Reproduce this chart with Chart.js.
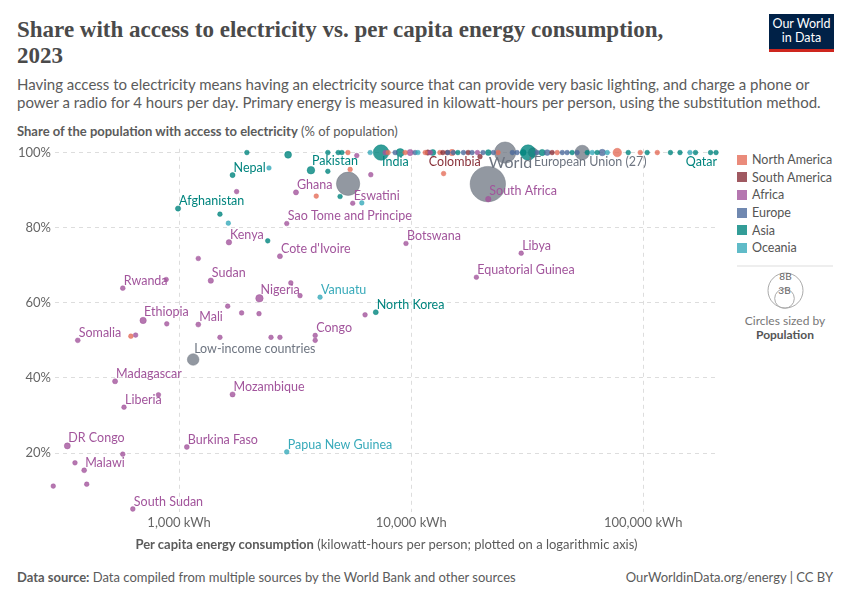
<!DOCTYPE html>
<html>
<head>
<meta charset="utf-8">
<script src="https://cdn.jsdelivr.net/npm/chart.js@4.4.1/dist/chart.umd.min.js"></script>
<style>
  body { margin: 0; background: #fff; font-family: Lato, sans-serif; }
  #page { position: relative; width: 850px; height: 600px; overflow: hidden; }
  #title { position: absolute; left: 17px; top: 17px; font-family: "Liberation Serif", serif; font-weight: bold; font-size: 23px; line-height: 26px; color: #4a4a4a; }
  #subtitle { position: absolute; left: 17px; top: 75px; width: 820px; font-size: 15px; line-height: 18px; color: #5b5b5b; }
  #logo { position: absolute; left: 769px; top: 14px; width: 65px; background: #002147; border-bottom: 3px solid #ce261e; color: #fff; font-size: 12.5px; line-height: 14px; text-align: center; padding-top: 3px; height: 32px; }
  #ytitle { position: absolute; left: 17px; top: 124px; font-size: 13px; line-height: 14px; color: #5b5b5b; }
  #xtitle { position: absolute; left: 55px; width: 663px; top: 537px; font-size: 13px; line-height: 14px; color: #5b5b5b; text-align: center; }
  #source { position: absolute; left: 17px; top: 570px; font-size: 13px; line-height: 14px; color: #5b5b5b; }
  #credit { position: absolute; right: 17px; top: 570px; font-size: 13px; line-height: 14px; color: #5b5b5b; }
  #chart { position: absolute; left: 0; top: 137px; }
  #legend { position: absolute; left: 737px; top: 151px; font-size: 12.5px; color: #555; }
  .item { height: 17.6px; display: flex; align-items: center; }
  .sw { width: 10px; height: 10px; margin-right: 5px; }
  #sizeKey { position: absolute; left: 737px; top: 265px; }
</style>
</head>
<body>
<div id="page">
  <div id="title">Share with access to electricity vs. per capita energy consumption,<br>2023</div>
  <div id="subtitle">Having access to electricity means having an electricity source that can provide very basic lighting, and charge a phone or power a radio for 4 hours per day. Primary energy is measured in kilowatt-hours per person, using the substitution method.</div>
  <div id="logo">Our World<br>in Data</div>
  <div id="ytitle"><b>Share of the population with access to electricity</b> (% of population)</div>
  <canvas id="chart" width="725" height="400"></canvas>
  <div id="xtitle"><b>Per capita energy consumption</b> (kilowatt-hours per person; plotted on a logarithmic axis)</div>
  <div id="source"><b>Data source:</b> Data compiled from multiple sources by the World Bank and other sources</div>
  <div id="credit">OurWorldinData.org/energy | CC BY</div>
  <div id="legend"></div>
  <svg id="sizeKey" width="100" height="80">
    <line x1="0" y1="1" x2="96" y2="1" stroke="#ddd" stroke-width="1"/>
    <circle cx="48.5" cy="25.5" r="17.5" fill="none" stroke="#aaa" stroke-width="1"/>
    <circle cx="47.5" cy="33.5" r="9.8" fill="none" stroke="#aaa" stroke-width="1"/>
    <text x="48.5" y="15" font-size="10" fill="#666" text-anchor="middle" font-family="Lato">8B</text>
    <text x="47.5" y="29" font-size="10" fill="#666" text-anchor="middle" font-family="Lato">3B</text>
    <text x="48" y="60" font-size="12" fill="#777" text-anchor="middle" font-family="Lato">Circles sized by</text>
    <text x="48" y="74" font-size="12" fill="#555" font-weight="bold" text-anchor="middle" font-family="Lato">Population</text>
  </svg>
</div>
<script>
// region codes used in the arrays below
const regionNames = { NA: "North America", SA: "South America", AF: "Africa", EU: "Europe", AS: "Asia", OC: "Oceania" };
const legendOrder = ["NA", "SA", "AF", "EU", "AS", "OC"];

const regionColors = {
    NA: "#e56e5a",
    SA: "#883039",
    AF: "#a2559c",
    EU: "#4c6a9c",
    AS: "#00847e",
    OC: "#38aaba",
    AG: "#6e7581"
};

// entity, region, energy per capita (kWh), access (%), population (millions)
const names = [
    "World", "Upper-middle-income countries", "Lower-middle-income countries", "High-income countries", "Low-income countries", "European Union (27)",
    "India", "China", "United States", "Pakistan", "Nigeria", "Ethiopia", "DR Congo", "South Africa", "Kenya", "Colombia",
    "Sudan", "Afghanistan", "Ghana", "Mozambique", "Nepal", "Madagascar", "Cote d'Ivoire", "North Korea", "Mali", "Burkina Faso",
    "Malawi", "Somalia", "Rwanda", "South Sudan", "Papua New Guinea", "Libya", "Congo", "Liberia", "Qatar", "Botswana",
    "Equatorial Guinea", "Eswatini", "Vanuatu", "Sao Tome and Principe",
    // unlabeled, on the 100% line
    "", "", "", "", "", "", "", "", "", "", "", "", "", "", "", "", "", "", "", "", "",
    "", "", "", "", "", "", "", "", "", "", "", "", "", "", "", "", "", "", "", "",
    "", "", "", "", "", "", "", "", "", "", "", "", "", "", "", "", "", "", "",
    // unlabeled, below
    "", "", "", "", "", "", "", "", "", "", "", "", "", "", "", "", "", "", "", "",
    "", "", "", "", "", "", "", "", "", "", "", "", ""
];
const regions = [
    "AG", "AG", "AG", "AG", "AG", "AG",
    "AS", "AS", "NA", "AS", "AF", "AF", "AF", "AF", "AF", "SA",
    "AF", "AS", "AF", "AF", "AS", "AF", "AF", "AS", "AF", "AF",
    "AF", "AF", "AF", "AF", "OC", "AF", "AF", "AF", "AS", "AF",
    "AF", "AF", "OC", "AF",
    "AS", "AS", "AS", "AS", "AS", "NA", "AF", "OC", "AF", "NA", "EU", "AS", "NA", "AF", "EU", "OC", "NA", "AF", "AS", "NA", "SA",
    "SA", "EU", "NA", "EU", "AS", "EU", "SA", "EU", "AF", "EU", "AS", "EU", "NA", "EU", "EU", "AS", "EU", "AS", "EU", "SA",
    "NA", "EU", "EU", "AS", "EU", "AS", "OC", "AS", "EU", "OC", "AS", "NA", "AS", "NA", "AS", "AS", "OC", "AS", "AS",
    "OC", "AS", "NA", "AF", "AF", "NA", "AS", "OC", "AS", "OC", "AS", "AF", "NA", "SA", "AF", "AF", "AF", "AF", "AF", "AF",
    "AF", "AF", "NA", "AF", "AF", "AF", "AF", "AF", "AF", "AF", "AF", "AF", "AF"
];
const energy = [
    21400, 25400, 5350, 54600, 1150, 33500,
    7420, 31900, 77300, 3700, 2220, 700, 330, 21500, 1640, 11800,
    1370, 990, 3190, 1700, 1700, 530, 2720, 7040, 1210, 1080,
    390, 366, 572, 632, 2910, 29800, 3860, 579, 206000, 9500,
    19100, 5600, 4050, 2910,
    1960, 2950, 4375, 4850, 5030, 5340, 5830, 6660, 7730, 7960, 8530, 8970, 9420, 9900, 10400, 10700, 11500, 12100, 12400, 13300, 13700,
    14300, 14400, 15000, 15200, 15900, 16800, 17600, 18300, 19300, 20400, 21500, 22600, 23700, 27300, 28600, 30400, 34900, 36700, 38600, 40500,
    42600, 44800, 47000, 49400, 51900, 57400, 60300, 63300, 66600, 70000, 86200, 97100, 104000, 115000, 131000, 144000, 159000, 168000, 195000,
    2440, 4375, 5460, 6700, 1770, 3900, 4940, 6130, 1500, 1630, 2410, 1210, 13800, 19800, 880, 3030, 3320, 1620, 1860, 2210,
    6330, 885, 620, 650, 1500, 2490, 2720, 3860, 815, 572, 356, 287, 400
];
const access = [
    91.6, 100, 91.7, 100, 44.9, 100,
    100, 100, 100, 95.3, 61.2, 55.3, 21.9, 87.6, 76.1, 100,
    65.9, 85.1, 89.4, 35.6, 94.0, 39.1, 72.4, 57.5, 54.2, 21.6,
    15.4, 50.0, 63.9, 5.1, 20.3, 73.2, 51.3, 32.2, 100, 75.8,
    66.8, 86.5, 61.5, 81.1,
    100, 99.4, 100, 100, 100, 100, 99.2, 100, 100, 100, 100, 100, 100, 100, 100, 100, 100, 100, 100, 100, 100,
    100, 100, 100, 100, 100, 100, 100, 100, 100, 100, 100, 100, 100, 100, 100, 100, 100, 100, 100, 100,
    100, 100, 100, 100, 100, 100, 100, 100, 100, 100, 100, 100, 100, 100, 100, 100, 100, 100, 100,
    95.9, 95.0, 95.5, 94.1, 89.6, 88.4, 88.3, 86.6, 83.6, 81.2, 76.5, 71.8, 94.4, 98.9, 66.2, 65.3, 61.9, 59.1, 57.3, 57.1,
    56.8, 54.4, 51.1, 51.4, 50.8, 50.8, 50.8, 50.0, 35.5, 19.7, 17.4, 11.2, 11.7
];
const population = [
    8000, 2800, 3400, 1250, 740, 450,
    1430, 1410, 335, 240, 225, 126, 102, 60, 55, 52,
    48, 41, 34, 33, 30, 30, 29, 26, 23, 23,
    20, 18, 14, 11, 10, 7, 6, 5.4, 2.7, 2.5,
    1.7, 1.2, 0.3, 0.2,
    5, 172, 10, 5, 5, 5, 5, 1, 5, 5, 5, 278, 5, 112, 5, 1, 5, 5, 100, 5, 5,
    5, 5, 128, 5, 5, 5, 10, 5, 5, 5, 85, 5, 10, 5, 5, 89, 5, 124, 84, 5,
    5, 5, 5, 5, 5, 5, 5, 5, 144, 5, 5, 5, 5, 5, 5, 5, 5, 5, 5,
    1, 5, 5, 5, 5, 5, 5, 1, 5, 1, 5, 5, 5, 5, 5, 5, 5, 5, 5, 5,
    5, 5, 11, 5, 5, 5, 5, 5, 5, 5, 5, 5, 5
];

const labelled = [
    "World", "Low-income countries", "European Union (27)", "India", "Pakistan", "Nigeria", "Ethiopia", "DR Congo",
    "South Africa", "Kenya", "Colombia", "Sudan", "Afghanistan", "Ghana", "Mozambique", "Nepal", "Madagascar",
    "Cote d'Ivoire", "North Korea", "Mali", "Burkina Faso", "Malawi", "Somalia", "Rwanda", "South Sudan",
    "Papua New Guinea", "Libya", "Congo", "Liberia", "Qatar", "Botswana", "Equatorial Guinea", "Eswatini",
    "Vanuatu", "Sao Tome and Principe"
];
const labelsBelow = ["India", "Colombia", "European Union (27)", "Qatar"];

const xTicks = [1000, 10000, 100000];
const yTicks = [20, 40, 60, 80, 100];

function hexAlpha(hex, a) {
    const n = parseInt(hex.slice(1), 16);
    return `rgba(${n >> 16}, ${(n >> 8) & 255}, ${n & 255}, ${a})`;
}

function radiusFor(pop) {
    return Math.sqrt(2.3 * 2.3 + 38.5 * pop / 1000);
}

// aggregates first (behind), then countries by population
let points = names.map((name, i) => ({
    name, region: regions[i], x: energy[i], y: access[i], pop: population[i]
}));
points.sort((a, b) => {
    const ga = a.region === "AG" ? 1 : 0, gb = b.region === "AG" ? 1 : 0;
    if (ga !== gb) return gb - ga;
    return b.pop - a.pop;
});

// legend
document.getElementById("legend").innerHTML = legendOrder.map(code => `
    <div class="item"><span class="sw" style="background:${hexAlpha(regionColors[code], 0.8)}"></span>${regionNames[code]}</div>
`).join('');

const labelPlugin = {
    id: 'pointLabels',
    afterDatasetsDraw(chart) {
        const ctx = chart.ctx;
        const meta = chart.getDatasetMeta(0);
        ctx.save();
        meta.data.forEach((el, i) => {
            const p = points[i];
            if (!labelled.includes(p.name)) return;
            const r = radiusFor(p.pop);
            const big = p.name === "World";
            ctx.font = (big ? 16 : 12.5) + "px Lato";
            ctx.fillStyle = p.region === "AG" ? "#6e7581" : regionColors[p.region];
            ctx.textBaseline = "middle";
            ctx.textAlign = p.name === "Qatar" ? "right" : "left";
            let y = el.y - r - (big ? 4 : 5);
            if (labelsBelow.includes(p.name)) y = el.y + 9;
            ctx.fillText(p.name, el.x + 1, y);
        });
        ctx.restore();
    }
};

Chart.defaults.font.family = "Lato";

new Chart(document.getElementById("chart"), {
    type: 'scatter',
    data: {
        datasets: [{
            data: points.map(p => ({ x: p.x, y: p.y })),
            backgroundColor: points.map(p => hexAlpha(regionColors[p.region], p.region === "AG" ? 0.75 : 0.8)),
            borderColor: points.map(p => hexAlpha(regionColors[p.region], 0.9)),
            borderWidth: 0.5,
            pointRadius: points.map(p => radiusFor(p.pop)),
            clip: false
        }]
    },
    options: {
        responsive: false,
        animation: false,
        layout: { autoPadding: false, padding: { top: 8, right: 7, left: 0, bottom: 0 } },
        plugins: {
            legend: { display: false },
            tooltip: { enabled: false }
        },
        scales: {
            x: {
                type: 'logarithmic',
                min: 292,
                max: 210000,
                afterBuildTicks: s => { s.ticks = xTicks.map(v => ({ value: v })); },
                afterFit: s => { s.height = 25; },
                ticks: {
                    callback: v => v.toLocaleString('en-US') + ' kWh',
                    color: '#666',
                    font: { size: 13 },
                    padding: 3,
                    maxRotation: 0
                },
                grid: { color: '#dddddd', drawTicks: false },
                border: { display: false, dash: [4, 4] }
            },
            y: {
                min: 4.3,
                max: 101,
                afterBuildTicks: s => { s.ticks = yTicks.map(v => ({ value: v })); },
                afterFit: s => { s.width = 55; },
                ticks: {
                    callback: v => v + '%',
                    color: '#666',
                    font: { size: 13 },
                    padding: 4
                },
                grid: { color: '#dddddd', drawTicks: false },
                border: { display: false, dash: [4, 4] }
            }
        }
    },
    plugins: [labelPlugin]
});
</script>
</body>
</html>
